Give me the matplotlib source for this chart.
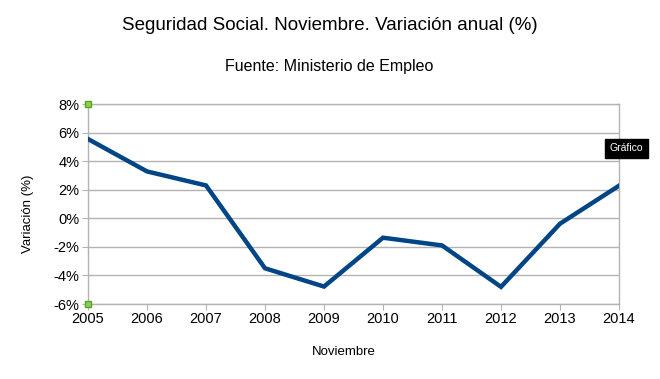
import matplotlib
matplotlib.use("Agg")
import matplotlib.pyplot as plt
from matplotlib.ticker import FuncFormatter

years = [2005, 2006, 2007, 2008, 2009, 2010, 2011, 2012, 2013, 2014]
variacion = [5.55, 3.28, 2.3, -3.5, -4.78, -1.36, -1.9, -4.8, -0.38, 2.28]
y_ticks = [-6, -4, -2, 0, 2, 4, 6, 8]

plt.rcParams['font.family'] = ['Liberation Sans', 'DejaVu Sans']

fig = plt.figure(figsize=(6.6, 3.79), dpi=100)
ax = fig.add_axes([88/660, 75/379, (619-88)/660, 200/379])

ax.plot(years, variacion, color='#004586', linewidth=3.2, solid_joinstyle='miter', zorder=3)

ax.set_xlim(years[0], years[-1])
ax.set_ylim(y_ticks[0], y_ticks[-1])
ax.set_yticks(y_ticks)
ax.set_xticks(years)
ax.yaxis.set_major_formatter(FuncFormatter(lambda v, p: f"{int(v)}%"))
ax.grid(axis='y', color='#b3b3b3', linewidth=1)
ax.set_axisbelow(True)
for s in ax.spines.values():
    s.set_color('#b3b3b3')
    s.set_linewidth(1)
ax.tick_params(axis='x', length=4, color='#b3b3b3', labelsize=10.5, pad=2)
ax.tick_params(axis='y', length=4, color='#b3b3b3', labelsize=10.5, pad=2)

fig.text(344/660, 1 - 352/379, 'Noviembre', ha='center', va='center', fontsize=9.5)
fig.text(28/660, 1 - 214/379, 'Variación (%)', ha='center', va='center',
         rotation=90, fontsize=9.5)

fig.text(0.5, 1 - 26/379, 'Seguridad Social. Noviembre. Variación anual (%)',
         ha='center', va='center', fontsize=13.5)
fig.text(329/660, 1 - 66/379, 'Fuente: Ministerio de Empleo',
         ha='center', va='center', fontsize=11.5)

# selection handles
ax.plot([0, 0], [0, 1], transform=ax.transAxes, linestyle='none', marker='s',
        markersize=4, markerfacecolor='#8fd14f', markeredgecolor='#5aa02c',
        clip_on=False, zorder=5)

fig.text(626.5/660, 1 - 148.5/379, 'Gráfico', ha='center', va='center', fontsize=7.5,
         color='white', bbox=dict(boxstyle='square,pad=0.45', facecolor='black', edgecolor='black'))

fig.savefig('out.png', dpi=100)
